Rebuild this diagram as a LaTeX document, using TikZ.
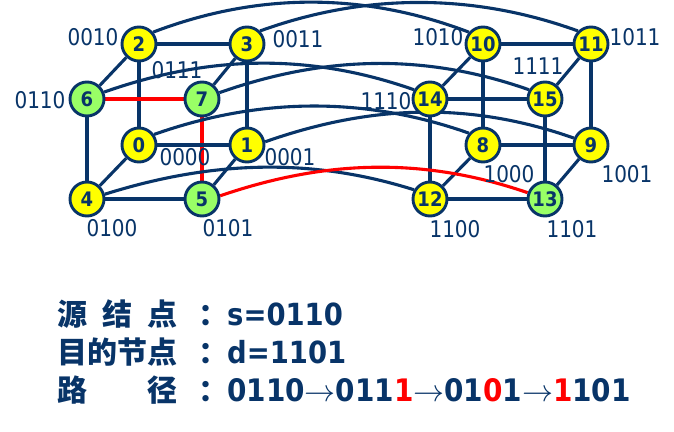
\documentclass[tikz,border=0pt]{standalone}
\usepackage{fix-cm}
\usepackage{fontspec}
\setmainfont{DejaVu Sans}
\newfontfamily\labf{DejaVu Sans}[FakeStretch=0.87]
\newfontfamily\numf{DejaVu Sans}[FakeStretch=0.9]
\newfontfamily\cjk{Noto Sans CJK SC}
\definecolor{navy}{RGB}{8,52,104}
\definecolor{lgreen}{RGB}{153,255,102}
\definecolor{ylw}{RGB}{255,255,0}
\definecolor{rd}{RGB}{255,0,0}
\pgfdeclarelayer{bg}
\pgfsetlayers{bg,main}
\newcommand{\arr}{{\fontsize{31}{31}\selectfont$\rightarrow$}}
\begin{document}
\begin{tikzpicture}[x=1pt,y=-1pt,
  vtx/.style={circle, draw=navy, line width=2.9pt, minimum size=34pt, inner sep=0pt,
    font=\numf\bfseries\fontsize{20}{20}\selectfont, text=navy},
  yv/.style={vtx, fill=ylw},
  gv/.style={vtx, fill=lgreen},
  edge/.style={draw=navy, line width=3.1pt},
  redge/.style={draw=rd, line width=3.1pt},
  lbl/.style={font=\labf\fontsize{23}{23}\selectfont, text=navy, inner sep=0pt},
  cjkt/.style={font=\cjk\bfseries\fontsize{30}{30}\selectfont, text=navy, inner sep=0pt, anchor=base west},
  colon/.style={font=\cjk\bfseries\fontsize{30}{30}\selectfont, text=navy, inner sep=0pt, anchor=base},
  latt/.style={font=\numf\bfseries\fontsize{30.5}{30.5}\selectfont, text=navy, inner sep=0pt, anchor=base west}]
\useasboundingbox (0,0) rectangle (674,431);
% nodes
\node[yv] (n0) at (139,145) {0};
\node[yv] (n1) at (247,145) {1};
\node[yv] (n2) at (139,44) {2};
\node[yv] (n3) at (247,44) {3};
\node[yv] (n4) at (87,199) {4};
\node[gv] (n5) at (202,199) {5};
\node[gv] (n6) at (87,99) {6};
\node[gv] (n7) at (202,99) {7};
\node[yv] (n8) at (483,145) {8};
\node[yv] (n9) at (591,145) {9};
\node[yv] (n10) at (483,44) {10};
\node[yv] (n11) at (591,44) {11};
\node[yv] (n12) at (430,199) {12};
\node[gv] (n13) at (545,199) {13};
\node[yv] (n14) at (430,99) {14};
\node[yv] (n15) at (545,99) {15};
\begin{pgfonlayer}{bg}
% left cube
\draw[edge] (n2) -- (n3);
\draw[edge] (n2) -- (n6);
\draw[edge] (n2) -- (n0);
\draw[edge] (n3) -- (n7);
\draw[edge] (n3) -- (n1);
\draw[redge] (n6) -- (n7);
\draw[edge] (n6) -- (n4);
\draw[redge] (n7) -- (n5);
\draw[edge] (n0) -- (n1);
\draw[edge] (n0) -- (n4);
\draw[edge] (n1) -- (n5);
\draw[edge] (n4) -- (n5);
% right cube
\draw[edge] (n10) -- (n11);
\draw[edge] (n10) -- (n14);
\draw[edge] (n10) -- (n8);
\draw[edge] (n11) -- (n15);
\draw[edge] (n11) -- (n9);
\draw[edge] (n14) -- (n15);
\draw[edge] (n14) -- (n12);
\draw[edge] (n15) -- (n13);
\draw[edge] (n8) -- (n9);
\draw[edge] (n8) -- (n12);
\draw[edge] (n9) -- (n13);
\draw[edge] (n12) -- (n13);
% long links
\draw[edge] (n2.40) .. controls +(105,-40) and +(-105,-40) .. (n10.140);
\draw[edge] (n3.45) .. controls +(105,-38) and +(-105,-38) .. (n11.135);
\draw[edge] (n6.22) .. controls +(105,-37) and +(-105,-37) .. (n14.150);
\draw[edge] (n7.20) .. controls +(105,-37) and +(-105,-37) .. (n15.150);
\draw[edge] (n0.35) .. controls +(105,-37) and +(-105,-37) .. (n8.140);
\draw[edge] (n1.10) .. controls +(105,-37) and +(-105,-37) .. (n9.158);
\draw[edge] (n4.15) .. controls +(105,-33) and +(-105,-33) .. (n12.150);
\draw[redge] (n5.10) .. controls +(105,-36) and +(-105,-36) .. (n13.160);
\end{pgfonlayer}
% labels
\node[lbl] (l2) at (93,37) {0010};
\node[lbl] (l3) at (298,39) {0011};
\node[lbl] (l7) at (177,70) {0111};
\node[lbl] (l6) at (40,100) {0110};
\node[lbl] (l0) at (185,157) {0000};
\node[lbl] (l1) at (290,157) {0001};
\node[lbl] (l4) at (112,228) {0100};
\node[lbl] (l5) at (228,228) {0101};
\node[lbl] (l10) at (438,37) {1010};
\node[lbl] (l11) at (635,37) {1011};
\node[lbl] (l15) at (538,66) {1111};
\node[lbl] (l14) at (386,101) {1110};
\node[lbl] (l8) at (509,174) {1000};
\node[lbl] (l9) at (627,174) {1001};
\node[lbl] (l12) at (455,229) {1100};
\node[lbl] (l13) at (572,229) {1101};
% bottom text
\node[cjkt] (t1) at (57,325) {源\hspace{15pt}结\hspace{15pt}点};
\node[colon] (c1) at (213,325) {：};
\node[latt] (s1) at (227,325) {s=0110};
\node[cjkt] (t2) at (57,363) {目的节点};
\node[colon] (c2) at (213,363) {：};
\node[latt] (s2) at (227,363) {d=1101};
\node[cjkt] (t3) at (57,401) {路\hspace{60pt}径};
\node[colon] (c3) at (213,401) {：};
\node[latt, font=\numf\bfseries\fontsize{31}{31}\selectfont] (s3) at (227,401) {0110\arr011\textcolor{rd}{1}\arr01\textcolor{rd}{0}1\arr\textcolor{rd}{1}101};
\end{tikzpicture}
\end{document}
